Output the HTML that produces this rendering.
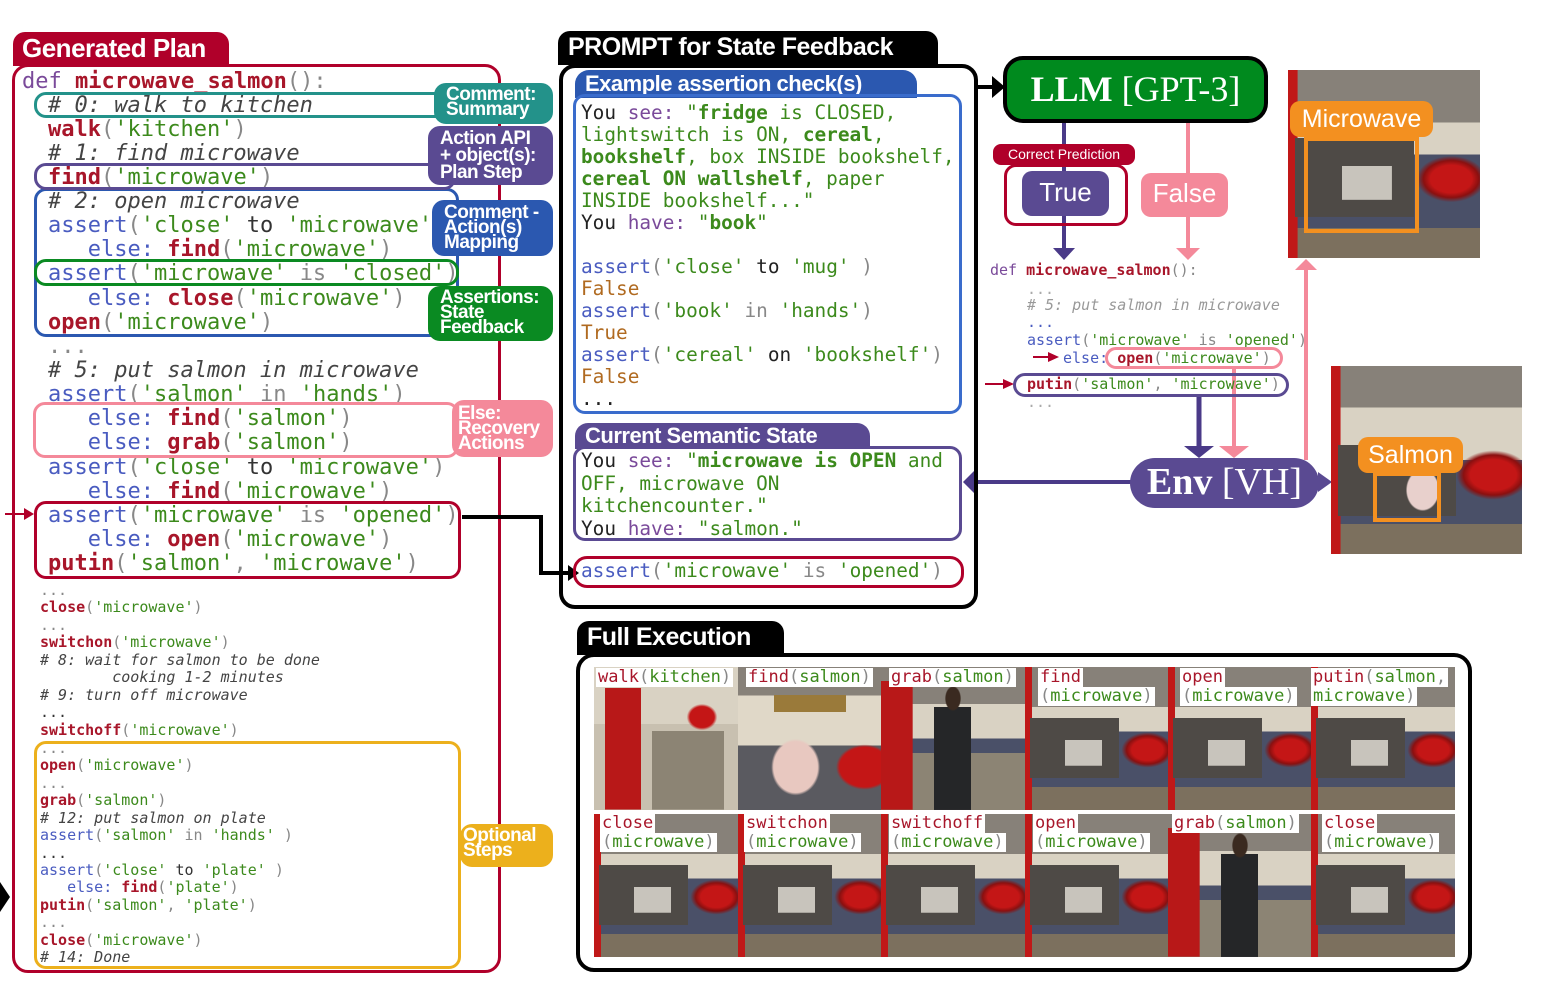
<!DOCTYPE html>
<html><head><meta charset="utf-8"><style>
*{margin:0;padding:0;box-sizing:border-box}
body{width:1548px;height:994px;background:#fff;position:relative;overflow:hidden;font-family:"DejaVu Sans Mono","Liberation Mono",monospace}
.a{position:absolute}
.ln{position:absolute;white-space:pre;line-height:24px;font-size:22px;color:#333;margin-top:2px}
.sm{position:absolute;white-space:pre;line-height:18px;font-size:15px;color:#333}
.k{color:#a8162a;font-weight:bold}
.s{color:#3c8a1c}
.as{color:#4a5cc0}
.c{color:#444;font-style:italic}
.df{color:#7a4a9a}
.p{color:#888}
.fa{color:#b06a20}
.pl{position:absolute;color:#fff;font-family:"Liberation Sans",sans-serif;font-weight:bold;letter-spacing:-0.5px}
.bx{position:absolute;border-style:solid;border-radius:12px}
.lab{position:absolute;color:#fff;font-family:"Liberation Sans",sans-serif;font-weight:bold;font-size:19px;line-height:15px;padding:4px 0 0 12px;border-radius:12px;letter-spacing:-0.5px}
.sc{position:absolute;width:144px;height:143px;overflow:hidden;
background:
radial-gradient(ellipse at 85% 58%,#c41616 0 9%,#8a1010 12%,transparent 15%),
linear-gradient(#c8c4bc,#c8c4bc) 38% 62%/26% 18% no-repeat,
linear-gradient(#4e4a46,#4e4a46) 10% 62%/62% 42% no-repeat,
linear-gradient(#c01818,#c01818) 0 0/5% 100% no-repeat,
linear-gradient(to bottom,#878179 0 28%,#d9d2c3 28% 45%,#4a5068 45% 84%,#7c705e 84%)}
.pe{background:
radial-gradient(ellipse at 50% 22%,#3a2a20 0 7%,transparent 8%),
linear-gradient(#252628,#252628) 50% 100%/26% 72% no-repeat,
linear-gradient(#b81818,#b81818) 0 100%/22% 90% no-repeat,
linear-gradient(to bottom,#878179 0 26%,#d9d2c3 26% 50%,#4a5068 50% 60%,#8c8474 60%)}
.wk{background:
radial-gradient(ellipse at 75% 35%,#c41616 0 8%,transparent 10%),
linear-gradient(#b81818,#b81818) 10% 100%/25% 85% no-repeat,
linear-gradient(#8c8474,#8c8474) 80% 100%/50% 55% no-repeat,
linear-gradient(to bottom,#d9d2c3 0 40%,#c8c0b0 40%)}
.sl{background:
radial-gradient(ellipse at 88% 70%,#c41616 0 14%,transparent 16%),
radial-gradient(ellipse at 40% 70%,#e8c8c0 0 18%,transparent 20%),
linear-gradient(#9a7a3a,#9a7a3a) 50% 22%/50% 12% no-repeat,
linear-gradient(to bottom,#878179 0 20%,#e0d8c8 20% 55%,#5a5a60 55%)}
.el{position:absolute;background:#fff;font-size:17px;line-height:19px;white-space:pre;padding:0 2px}
</style></head><body>

<div class="a" style="left:13px;top:32px;width:216px;height:34px;background:#b0002a;border-radius:12px 12px 0 0"></div>
<div class="pl" style="left:22px;top:33px;font-size:26px;line-height:30px">Generated Plan</div>
<div class="bx" style="left:12px;top:64px;width:489px;height:909px;border-width:3px;border-color:#b0002a;border-radius:16px"></div>

<div class="ln" style="left:22px;top:68px"><span class="df">def</span> <span class="k">microwave_salmon</span><span class="p">():</span></div>
<div class="ln" style="left:48px;top:92px"><span class="c"># 0: walk to kitchen</span></div>
<div class="ln" style="left:48px;top:116px"><span class="k">walk</span><span class="p">(</span><span class="s">'kitchen'</span><span class="p">)</span></div>
<div class="ln" style="left:48px;top:140px"><span class="c"># 1: find microwave</span></div>
<div class="ln" style="left:48px;top:164px"><span class="k">find</span><span class="p">(</span><span class="s">'microwave'</span><span class="p">)</span></div>
<div class="ln" style="left:48px;top:188px"><span class="c"># 2: open microwave</span></div>
<div class="ln" style="left:48px;top:212px"><span class="as">assert</span><span class="p">(</span><span class="s">'close'</span> to <span class="s">'microwave'</span><span class="p">)</span></div>
<div class="ln" style="left:48px;top:236px"><span class="as">   else:</span> <span class="k">find</span><span class="p">(</span><span class="s">'microwave'</span><span class="p">)</span></div>
<div class="ln" style="left:48px;top:260px"><span class="as">assert</span><span class="p">(</span><span class="s">'microwave'</span> <span class="p">is</span> <span class="s">'closed'</span><span class="p">)</span></div>
<div class="ln" style="left:48px;top:285px"><span class="as">   else:</span> <span class="k">close</span><span class="p">(</span><span class="s">'microwave'</span><span class="p">)</span></div>
<div class="ln" style="left:48px;top:309px"><span class="k">open</span><span class="p">(</span><span class="s">'microwave'</span><span class="p">)</span></div>
<div class="ln" style="left:48px;top:333px"><span class="p">...</span></div>
<div class="ln" style="left:48px;top:357px"><span class="c"># 5: put salmon in microwave</span></div>
<div class="ln" style="left:48px;top:381px"><span class="as">assert</span><span class="p">(</span><span class="s">'salmon'</span> <span class="p">in</span> <span class="s">'hands'</span><span class="p">)</span></div>
<div class="ln" style="left:48px;top:405px"><span class="as">   else:</span> <span class="k">find</span><span class="p">(</span><span class="s">'salmon'</span><span class="p">)</span></div>
<div class="ln" style="left:48px;top:429px"><span class="as">   else:</span> <span class="k">grab</span><span class="p">(</span><span class="s">'salmon'</span><span class="p">)</span></div>
<div class="ln" style="left:48px;top:454px"><span class="as">assert</span><span class="p">(</span><span class="s">'close'</span> to <span class="s">'microwave'</span><span class="p">)</span></div>
<div class="ln" style="left:48px;top:478px"><span class="as">   else:</span> <span class="k">find</span><span class="p">(</span><span class="s">'microwave'</span><span class="p">)</span></div>
<div class="ln" style="left:48px;top:502px"><span class="as">assert</span><span class="p">(</span><span class="s">'microwave'</span> <span class="p">is</span> <span class="s">'opened'</span><span class="p">)</span></div>
<div class="ln" style="left:48px;top:526px"><span class="as">   else:</span> <span class="k">open</span><span class="p">(</span><span class="s">'microwave'</span><span class="p">)</span></div>
<div class="ln" style="left:48px;top:550px"><span class="k">putin</span><span class="p">(</span><span class="s">'salmon'</span><span class="p">,</span> <span class="s">'microwave'</span><span class="p">)</span></div>

<div class="sm" style="left:40px;top:581px"><span class="p">...</span></div>
<div class="sm" style="left:40px;top:598px"><span class="k">close</span><span class="p">(</span><span class="s">'microwave'</span><span class="p">)</span></div>
<div class="sm" style="left:40px;top:616px"><span class="p">...</span></div>
<div class="sm" style="left:40px;top:633px"><span class="k">switchon</span><span class="p">(</span><span class="s">'microwave'</span><span class="p">)</span></div>
<div class="sm" style="left:40px;top:651px"><span class="c"># 8: wait for salmon to be done</span></div>
<div class="sm" style="left:40px;top:668px"><span class="c">        cooking 1-2 minutes</span></div>
<div class="sm" style="left:40px;top:686px"><span class="c"># 9: turn off microwave</span></div>
<div class="sm" style="left:40px;top:703px">...</div>
<div class="sm" style="left:40px;top:721px"><span class="k">switchoff</span><span class="p">(</span><span class="s">'microwave'</span><span class="p">)</span></div>
<div class="sm" style="left:40px;top:739px"><span class="p">...</span></div>
<div class="sm" style="left:40px;top:756px"><span class="k">open</span><span class="p">(</span><span class="s">'microwave'</span><span class="p">)</span></div>
<div class="sm" style="left:40px;top:774px"><span class="p">...</span></div>
<div class="sm" style="left:40px;top:791px"><span class="k">grab</span><span class="p">(</span><span class="s">'salmon'</span><span class="p">)</span></div>
<div class="sm" style="left:40px;top:809px"><span class="c"># 12: put salmon on plate</span></div>
<div class="sm" style="left:40px;top:826px"><span class="as">assert</span><span class="p">(</span><span class="s">'salmon'</span> <span class="p">in</span> <span class="s">'hands'</span> <span class="p">)</span></div>
<div class="sm" style="left:40px;top:844px">...</div>
<div class="sm" style="left:40px;top:861px"><span class="as">assert</span><span class="p">(</span><span class="s">'close'</span> to <span class="s">'plate'</span> <span class="p">)</span></div>
<div class="sm" style="left:40px;top:878px"><span class="as">   else:</span> <span class="k">find</span><span class="p">(</span><span class="s">'plate'</span><span class="p">)</span></div>
<div class="sm" style="left:40px;top:896px"><span class="k">putin</span><span class="p">(</span><span class="s">'salmon'</span><span class="p">,</span> <span class="s">'plate'</span><span class="p">)</span></div>
<div class="sm" style="left:40px;top:913px"><span class="p">...</span></div>
<div class="sm" style="left:40px;top:931px"><span class="k">close</span><span class="p">(</span><span class="s">'microwave'</span><span class="p">)</span></div>
<div class="sm" style="left:40px;top:948px"><span class="c"># 14: Done</span></div>

<div class="bx" style="left:34px;top:92px;width:422px;height:26px;border-width:3px;border-color:#23928a"></div>
<div class="bx" style="left:34px;top:188px;width:425px;height:149px;border-width:3px;border-color:#2b58b0"></div>
<div class="bx" style="left:34px;top:163px;width:422px;height:27px;border-width:3px;border-color:#5a4a92"></div>
<div class="bx" style="left:34px;top:259px;width:425px;height:27px;border-width:3px;border-color:#0a8a22"></div>
<div class="bx" style="left:33px;top:402px;width:426px;height:56px;border-width:3px;border-color:#f4899a"></div>
<div class="bx" style="left:34px;top:501px;width:427px;height:78px;border-width:3px;border-color:#b0002a"></div>
<div class="bx" style="left:34px;top:741px;width:427px;height:228px;border-width:3px;border-color:#ecb01c"></div>

<div class="lab" style="left:434px;top:83px;width:119px;height:41px;background:#23928a;padding-top:4px">Comment:<br>Summary</div>
<div class="lab" style="left:428px;top:126px;width:125px;height:59px;background:#5a4a92;padding-top:4px;line-height:17px">Action API<br>+ object(s):<br>Plan Step</div>
<div class="lab" style="left:432px;top:200px;width:121px;height:56px;background:#2b58b0;padding-top:5px">Comment -<br>Action(s)<br>Mapping</div>
<div class="lab" style="left:428px;top:286px;width:125px;height:55px;background:#0a8a22;padding-top:4px">Assertions:<br>State<br>Feedback</div>
<div class="lab" style="left:452px;top:400px;width:101px;height:57px;background:#f4899a;padding:6px 0 0 6px">Else:<br>Recovery<br>Actions</div>
<div class="lab" style="left:460px;top:824px;width:93px;height:43px;background:#ecb01c;padding:4px 0 0 3px">Optional<br>Steps</div>

<svg class="a" style="left:0;top:0" width="1548" height="994">
<line x1="5" y1="514" x2="28" y2="514" stroke="#b0002a" stroke-width="2"/>
<polygon points="24,508 34,514 24,520" fill="#b0002a"/>
<polygon points="0,882 10,897 0,912" fill="#000"/>
<polyline points="462,517 541,517 541,573 572,573" fill="none" stroke="#000" stroke-width="4"/>
<polygon points="568,565 579,573 568,581" fill="#000"/>
<line x1="977" y1="87" x2="995" y2="87" stroke="#000" stroke-width="4"/>
<polygon points="992,76 1005,87 992,98" fill="#000"/>
<line x1="1064" y1="122" x2="1064" y2="250" stroke="#4a3a88" stroke-width="4"/>
<polygon points="1053,248 1075,248 1064,260" fill="#4a3a88"/>
<line x1="1188" y1="122" x2="1188" y2="250" stroke="#f4899a" stroke-width="4"/>
<polygon points="1176,248 1200,248 1188,260" fill="#f4899a"/>
<line x1="1033" y1="357" x2="1050" y2="357" stroke="#b0002a" stroke-width="2"/>
<polygon points="1048,352 1059,357 1048,362" fill="#b0002a"/>
<line x1="985" y1="384" x2="1005" y2="384" stroke="#b0002a" stroke-width="2"/>
<polygon points="1003,379 1014,384 1003,389" fill="#b0002a"/>
<line x1="1199" y1="396" x2="1199" y2="448" stroke="#4a3a88" stroke-width="5"/>
<polygon points="1184,446 1214,446 1199,458" fill="#4a3a88"/>
<line x1="1234" y1="368" x2="1234" y2="448" stroke="#f4899a" stroke-width="4"/>
<polygon points="1219,446 1249,446 1234,458" fill="#f4899a"/>
<line x1="1306" y1="460" x2="1306" y2="268" stroke="#f4899a" stroke-width="4"/>
<polygon points="1295,270 1317,270 1306,259" fill="#f4899a"/>
<line x1="975" y1="482" x2="1132" y2="482" stroke="#4a3a88" stroke-width="4"/>
<polygon points="975,470 963,482 975,494" fill="#4a3a88"/>
<polygon points="1318,472 1332,482 1318,492" fill="#5a4a92"/>
</svg>

<div class="a" style="left:558px;top:31px;width:380px;height:34px;background:#000;border-radius:12px 12px 0 0"></div>
<div class="pl" style="left:568px;top:32px;font-size:25px;line-height:30px">PROMPT for State Feedback</div>
<div class="bx" style="left:559px;top:64px;width:419px;height:545px;border-width:4px;border-color:#000;border-radius:16px"></div>
<div class="a" style="left:575px;top:70px;width:342px;height:28px;background:#2b58b0;border-radius:14px 14px 0 0"></div>
<div class="pl" style="left:585px;top:70px;font-size:22px;line-height:28px">Example assertion check(s)</div>
<div class="bx" style="left:573px;top:94px;width:389px;height:320px;border-width:3px;border-color:#3a6ccc"></div>
<div class="a" style="left:581px;top:102px;font-size:19.4px;line-height:22px;white-space:pre;color:#222">You <span class="df">see:</span> <span class="s">"<b>fridge</b> is CLOSED,
lightswitch is ON, <b>cereal</b>,
<b>bookshelf</b>, box INSIDE bookshelf,
<b>cereal ON wallshelf</b>, paper
INSIDE bookshelf..."</span>
You <span class="df">have:</span> <span class="s">"<b>book</b>"</span>

<span class="as">assert</span><span class="p">(</span><span class="s">'close'</span> to <span class="s">'mug'</span> <span class="p">)</span>
<span class="fa">False</span>
<span class="as">assert</span><span class="p">(</span><span class="s">'book'</span> <span class="p">in</span> <span class="s">'hands'</span><span class="p">)</span>
<span class="fa">True</span>
<span class="as">assert</span><span class="p">(</span><span class="s">'cereal'</span> on <span class="s">'bookshelf'</span><span class="p">)</span>
<span class="fa">False</span>
...</div>
<div class="a" style="left:575px;top:423px;width:295px;height:26px;background:#5a4a92;border-radius:13px 13px 0 0"></div>
<div class="pl" style="left:585px;top:422px;font-size:22px;line-height:28px">Current Semantic State</div>
<div class="bx" style="left:573px;top:446px;width:389px;height:95px;border-width:3px;border-color:#5a4a92"></div>
<div class="a" style="left:581px;top:450px;font-size:19.4px;line-height:22.5px;white-space:pre;color:#222">You <span class="df">see:</span> <span class="s">"<b>microwave is OPEN</b> and
OFF, microwave ON
kitchencounter."</span>
You <span class="df">have:</span> <span class="s">"salmon."</span></div>
<div class="bx" style="left:573px;top:556px;width:391px;height:32px;border-width:3px;border-color:#b0002a;border-radius:14px"></div>
<div class="a" style="left:581px;top:560px;font-size:19.4px;line-height:22px;white-space:pre"><span class="as">assert</span><span class="p">(</span><span class="s">'microwave'</span> <span class="p">is</span> <span class="s">'opened'</span><span class="p">)</span></div>

<div class="a" style="left:1003px;top:56px;width:265px;height:67px;background:#008a1e;border:4px solid #000;border-radius:20px;color:#fff;font-family:'Liberation Serif',serif;font-size:36px;line-height:59px;text-align:center"><b>LLM</b> [GPT-3]</div>
<div class="a" style="left:993px;top:144px;width:142px;height:21px;background:#b0002a;border-radius:8px;color:#fff;font-family:'Liberation Sans',sans-serif;font-size:14px;line-height:21px;text-align:center">Correct Prediction</div>
<div class="bx" style="left:1004px;top:164px;width:124px;height:62px;border-width:3px;border-color:#b0002a"></div>
<div class="a" style="left:1022px;top:171px;width:87px;height:45px;background:#5a4a92;border-radius:10px;color:#fff;font-family:'Liberation Sans',sans-serif;font-size:26px;line-height:43px;text-align:center">True</div>
<div class="a" style="left:1141px;top:173px;width:87px;height:44px;background:#f4899a;border-radius:10px;color:#fff;font-family:'Liberation Sans',sans-serif;font-size:26px;line-height:40px;text-align:center">False</div>

<div class="sm" style="left:990px;top:261px"><span class="df">def</span> <span class="k">microwave_salmon</span><span class="p">():</span></div>
<div class="sm" style="left:1027px;top:280px;color:#aaa">...</div>
<div class="sm" style="left:1027px;top:296px;color:#999;font-style:italic"># 5: put salmon in microwave</div>
<div class="sm" style="left:1027px;top:313px"><span class="as">...</span></div>
<div class="sm" style="left:1027px;top:331px"><span class="as">assert</span><span class="p">(</span><span class="s">'microwave'</span> <span class="p">is</span> <span class="s">'opened'</span><span class="p">)</span></div>
<div class="bx" style="left:1105px;top:347px;width:178px;height:22px;border-width:3px;border-color:#f4899a"></div>
<div class="sm" style="left:1063px;top:349px"><span class="as">else:</span> <span class="k">open</span><span class="p">(</span><span class="s">'microwave'</span><span class="p">)</span></div>
<div class="bx" style="left:1013px;top:373px;width:276px;height:24px;border-width:3px;border-color:#5a4a92"></div>
<div class="sm" style="left:1027px;top:375px"><span class="k">putin</span><span class="p">(</span><span class="s">'salmon'</span><span class="p">,</span> <span class="s">'microwave'</span><span class="p">)</span></div>
<div class="sm" style="left:1027px;top:393px;color:#aaa">...</div>

<div class="a" style="left:1130px;top:458px;width:189px;height:50px;background:#5a4a92;border-radius:25px;color:#fff;font-family:'Liberation Serif',serif;font-size:38px;line-height:48px;text-align:center"><b>Env</b> [VH]</div>

<div class="sc" style="left:1288px;top:70px;width:192px;height:188px"></div>
<div class="a" style="left:1304px;top:137px;width:115px;height:96px;border:4px solid #f39020"></div>
<div class="a" style="left:1290px;top:101px;width:143px;height:36px;background:#f39020;border-radius:10px;color:#fff;font-family:'Liberation Sans',sans-serif;font-size:25px;line-height:36px;text-align:center">Microwave</div>
<div class="sc" style="left:1331px;top:366px;width:191px;height:188px;background:
radial-gradient(ellipse at 48% 66%,#e8d0cc 0 11%,transparent 12%),
radial-gradient(ellipse at 85% 58%,#c41616 0 10%,#8a1010 13%,transparent 16%),
linear-gradient(#4e4a46,#4e4a46) 10% 68%/62% 38% no-repeat,
linear-gradient(#c01818,#c01818) 0 0/5% 100% no-repeat,
linear-gradient(to bottom,#878179 0 22%,#d9d2c3 22% 50%,#4a5068 50% 84%,#7c705e 84%)"></div>
<div class="a" style="left:1373px;top:472px;width:68px;height:50px;border:4px solid #f39020"></div>
<div class="a" style="left:1358px;top:437px;width:105px;height:36px;background:#f39020;border-radius:10px;color:#fff;font-family:'Liberation Sans',sans-serif;font-size:25px;line-height:36px;text-align:center">Salmon</div>

<div class="a" style="left:577px;top:621px;width:207px;height:34px;background:#000;border-radius:12px 12px 0 0"></div>
<div class="pl" style="left:587px;top:622px;font-size:25px;line-height:30px">Full Execution</div>
<div class="bx" style="left:576px;top:653px;width:896px;height:319px;border-width:4px;border-color:#000;border-radius:18px"></div>

<div class="sc wk" style="left:594px;top:667px"></div>
<div class="sc sl" style="left:738px;top:667px"></div>
<div class="sc pe" style="left:881px;top:667px"></div>
<div class="sc" style="left:1025px;top:667px"></div>
<div class="sc" style="left:1168px;top:667px"></div>
<div class="sc" style="left:1311px;top:667px"></div>
<div class="sc" style="left:594px;top:814px"></div>
<div class="sc" style="left:738px;top:814px"></div>
<div class="sc" style="left:881px;top:814px"></div>
<div class="sc" style="left:1025px;top:814px"></div>
<div class="sc pe" style="left:1168px;top:814px"></div>
<div class="sc" style="left:1311px;top:814px"></div>

<div class="el" style="left:596px;top:668px"><span class="k" style="font-weight:normal">walk</span><span class="p">(</span><span class="s">kitchen</span><span class="p">)</span></div>
<div class="el" style="left:746px;top:668px"><span class="k" style="font-weight:normal">find</span><span class="p">(</span><span class="s">salmon</span><span class="p">)</span></div>
<div class="el" style="left:889px;top:668px"><span class="k" style="font-weight:normal">grab</span><span class="p">(</span><span class="s">salmon</span><span class="p">)</span></div>
<div class="el" style="left:1038px;top:668px"><span class="k" style="font-weight:normal">find</span></div>
<div class="el" style="left:1038px;top:687px"><span class="p">(</span><span class="s">microwave</span><span class="p">)</span></div>
<div class="el" style="left:1180px;top:668px"><span class="k" style="font-weight:normal">open</span></div>
<div class="el" style="left:1180px;top:687px"><span class="p">(</span><span class="s">microwave</span><span class="p">)</span></div>
<div class="el" style="left:1311px;top:668px"><span class="k" style="font-weight:normal">putin</span><span class="p">(</span><span class="s">salmon</span><span class="p">,</span></div>
<div class="el" style="left:1311px;top:687px"><span class="s">microwave</span><span class="p">)</span></div>
<div class="el" style="left:600px;top:814px"><span class="k" style="font-weight:normal">close</span></div>
<div class="el" style="left:600px;top:833px"><span class="p">(</span><span class="s">microwave</span><span class="p">)</span></div>
<div class="el" style="left:744px;top:814px"><span class="k" style="font-weight:normal">switchon</span></div>
<div class="el" style="left:744px;top:833px"><span class="p">(</span><span class="s">microwave</span><span class="p">)</span></div>
<div class="el" style="left:889px;top:814px"><span class="k" style="font-weight:normal">switchoff</span></div>
<div class="el" style="left:889px;top:833px"><span class="p">(</span><span class="s">microwave</span><span class="p">)</span></div>
<div class="el" style="left:1033px;top:814px"><span class="k" style="font-weight:normal">open</span></div>
<div class="el" style="left:1033px;top:833px"><span class="p">(</span><span class="s">microwave</span><span class="p">)</span></div>
<div class="el" style="left:1172px;top:814px"><span class="k" style="font-weight:normal">grab</span><span class="p">(</span><span class="s">salmon</span><span class="p">)</span></div>
<div class="el" style="left:1322px;top:814px"><span class="k" style="font-weight:normal">close</span></div>
<div class="el" style="left:1322px;top:833px"><span class="p">(</span><span class="s">microwave</span><span class="p">)</span></div>

</body></html>
